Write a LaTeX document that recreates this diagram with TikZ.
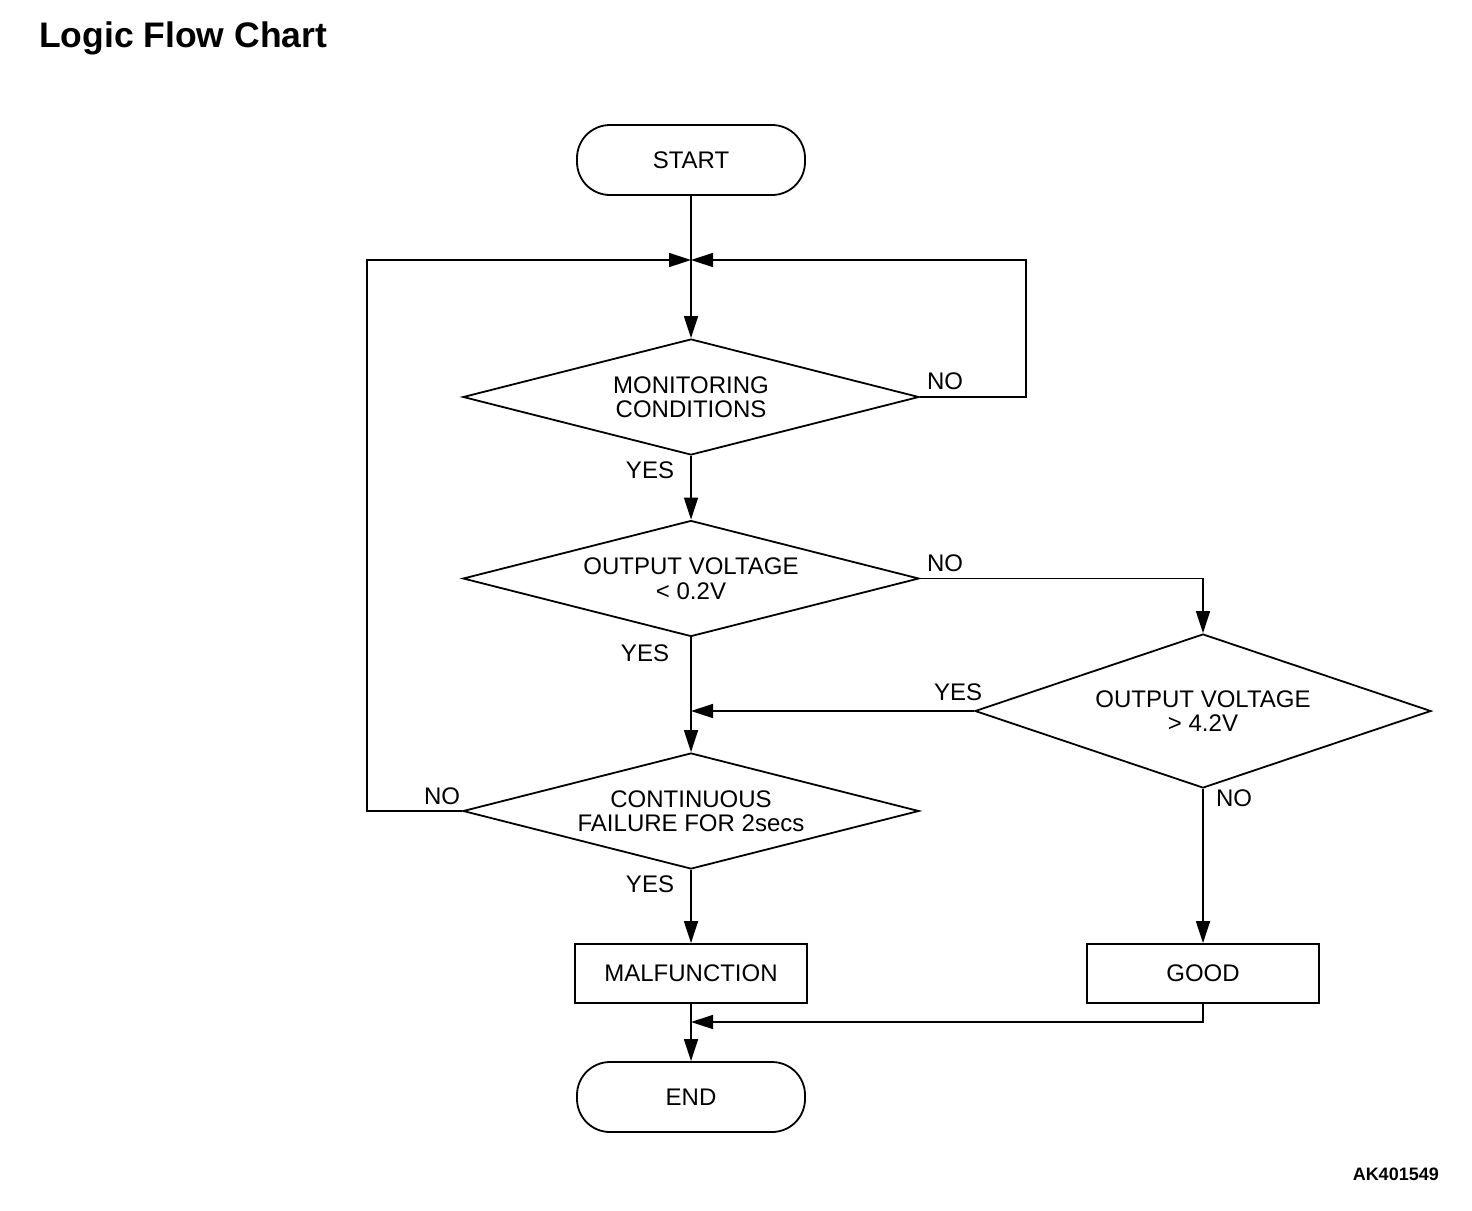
\documentclass[tikz,border=0pt]{standalone}
\usepackage{fontspec}
\setmainfont{Liberation Sans}
\usetikzlibrary{shapes.geometric,arrows.meta}
\begin{document}
\begin{tikzpicture}[x=1pt,y=-1pt,
  lbl/.style={font=\fontsize{24}{24.5}\selectfont, align=center, inner sep=0pt},
  term/.style={draw, line width=1.8pt, rounded corners=33pt, minimum width=228pt, minimum height=70pt, lbl},
  proc/.style={draw, line width=1.8pt, minimum width=232pt, minimum height=59pt, lbl},
  dec/.style={draw, shape=diamond, line width=1.8pt, inner sep=0pt, minimum width=456pt, lbl},
  conn/.style={line width=1.5pt},
  arr/.style={conn, -{Triangle[length=22pt,width=14pt]}},
  yn/.style={font=\fontsize{24}{24.5}\selectfont, inner sep=0pt}]
\useasboundingbox (0,0) rectangle (1472,1210);
\node[font=\bfseries\fontsize{35.5}{38}\selectfont, anchor=base west, inner sep=0pt] (title) at (39,47) {Logic Flow Chart};
\node[font=\bfseries\fontsize{18}{20}\selectfont, anchor=base east, inner sep=0pt] (code) at (1439,1180) {AK401549};

\node[term] (start) at (691,160) {START};
\node[dec, aspect=3.93, minimum height=116pt] (d1) at (691,397) {MONITORING\\CONDITIONS};
\node[dec, aspect=3.93, minimum height=116pt] (d2) at (691,578.5) {OUTPUT VOLTAGE\\< 0.2V};
\node[dec, aspect=2.96, minimum height=154pt] (d3) at (1203,711) {OUTPUT VOLTAGE\\> 4.2V};
\node[dec, aspect=3.93, minimum height=116pt] (d4) at (691,811) {CONTINUOUS\\FAILURE FOR 2secs};
\node[proc] (mal) at (691,973.5) {MALFUNCTION};
\node[proc] (good) at (1203,973.5) {GOOD};
\node[term] (end) at (691,1097) {END};

\coordinate (j) at (691,260);
\coordinate (r1) at (1026,397);
\coordinate (r2) at (1026,260);
\coordinate (l1) at (367,811);
\coordinate (l2) at (367,260);
\coordinate (n2) at (1203,578.5);
\coordinate (y3) at (691,711);
\coordinate (g1) at (1203,1022);
\coordinate (g2) at (691,1022);

\draw[arr] (start.south) -- (d1.north);
\draw[arr] (d1.east) -- (r1) -- (r2) -- (j);
\draw[arr] (d4.west) -- (l1) -- (l2) -- (j);
\draw[arr] (d1.south) -- (d2.north);
\draw[arr] (d2.east) -- (n2) -- (d3.north);
\draw[arr] (d2.south) -- (d4.north);
\draw[arr] (d3.west) -- (y3);
\draw[arr] (d3.south) -- (good.north);
\draw[arr] (d4.south) -- (mal.north);
\draw[arr] (mal.south) -- (end.north);
\draw[arr] (good.south) -- (g1) -- (g2);

\node[yn] (no1) at (945,381) {NO};
\node[yn] (yes1) at (650,470) {YES};
\node[yn] (no2) at (945,563) {NO};
\node[yn] (yes2) at (645,653) {YES};
\node[yn] (yes3) at (958,692) {YES};
\node[yn] (no3) at (1234,798) {NO};
\node[yn] (no4) at (442,796) {NO};
\node[yn] (yes4) at (650,884) {YES};
\end{tikzpicture}
\end{document}
